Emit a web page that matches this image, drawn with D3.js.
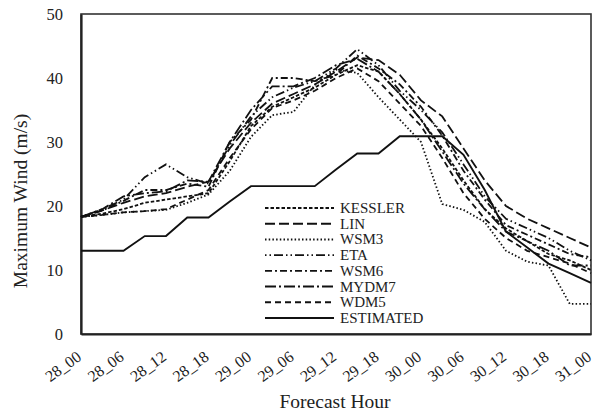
<!DOCTYPE html>
<html>
<head>
<meta charset="utf-8">
<script src="https://cdn.jsdelivr.net/npm/d3@7/dist/d3.min.js"></script>
<style>
  html, body { margin: 0; padding: 0; background: #fff; }
  svg { display: block; }
  svg text { font-family: "Liberation Serif", "Times New Roman", serif !important; }
</style>
</head>
<body>
<svg id="chart" width="594" height="414"></svg>
<script>
// ---- data (3-hourly forecast hours, 28_00 .. 31_00) ----
const hours = [0,3,6,9,12,15,18,21,24,27,30,33,36,39,42,45,48,51,54,57,60,63,66,69,72];
const tickHours = [0,6,12,18,24,30,36,42,48,54,60,66,72];
const tickLabels = ["28_00","28_06","28_12","28_18","29_00","29_06","29_12","29_18","30_00","30_06","30_12","30_18","31_00"];
const yTicks = [0,10,20,30,40,50];

const kessler   = [18.3,18.8,19.5,20.5,21,21.5,22,27,32.5,35.5,37,38.5,40.5,42,41,37.5,33.5,29,24,19.5,16.5,14.5,12.5,11.5,10];
const lin       = [18.3,19.3,20.5,21.5,22,23,23.8,29,33,36,37.5,39,41,43.2,42.8,40.5,36.5,34,29,24,20,18,16.5,15,13.5];
const wsm3      = [18.3,18.6,19,19.2,19.4,20.5,21.8,25.5,30.8,34.2,34.7,38.9,41.3,40.8,37,33.5,30,20.3,19.4,17.5,13,11.3,10.7,4.7,4.7];
const eta       = [18.3,19.5,21,24.5,26.5,24.5,23.5,29.5,34,37,38.5,39.5,41.5,44.5,42,38,35,31.5,26.5,21.5,18,16.5,15,13,11.5];
const wsm6      = [18.3,19.3,20.8,22.5,22.5,23.5,23,30,33.5,40,40,39.5,40.5,43.5,41.5,39,35.5,31,25.5,21,17,15.5,14,12.5,12];
const mydm7     = [18.3,19.5,21.5,22,22.3,24,23.8,30,35,38.7,38.7,40,42,43,41,37.5,33.5,28.5,23.5,19.5,16,14.5,13,10.7,10.7];
const wdm5      = [18.3,18.6,19,19.2,19.5,21,22.5,27.5,32,35.3,36.5,38,40,41.5,39.5,36,32.5,27.5,22,18,15,13,12,11,9.5];
const estimated = [13,13,13,15.3,15.3,18.2,18.2,20.7,23.1,23.1,23.1,23.1,25.7,28.2,28.2,30.9,30.9,30.9,28,22.5,16,13.5,11,9.5,8];

const seriesNames = ["KESSLER","LIN","WSM3","ETA","WSM6","MYDM7","WDM5","ESTIMATED"];
const seriesValues = [kessler, lin, wsm3, eta, wsm6, mydm7, wdm5, estimated];
const dashes = ["3.5,2", "10,4", "1.5,2.2", "1.5,3,1.5,3,9,3", "7,3,2,3", "11,3,2,3", "6,4", null];

// ---- layout ----
const FONT = "'Liberation Serif', 'Times New Roman', serif";
const svg = d3.select("#chart");
const L = 81, R = 591, T = 14, B = 334;

const x = d3.scaleLinear().domain([0, 72]).range([L, R]);
const y = d3.scaleLinear().domain([0, 50]).range([B, T]);

// plot box
svg.append("rect")
  .attr("x", L).attr("y", T).attr("width", R - L).attr("height", B - T)
  .attr("fill", "none").attr("stroke", "#333").attr("stroke-width", 1.6);

// y axis
const yAxis = svg.append("g").attr("transform", `translate(${L},0)`)
  .call(d3.axisLeft(y).tickValues(yTicks).tickSize(0).tickPadding(18));
yAxis.attr("font-family", FONT);
yAxis.select(".domain").attr("stroke", "#222").attr("stroke-width", 2.2);
yAxis.selectAll("text").attr("font-size", 16.5).attr("fill", "#222")
  .style("font-family", FONT);

// x axis
const xAxis = svg.append("g").attr("transform", `translate(0,${B})`)
  .call(d3.axisBottom(x).tickValues(tickHours).tickSize(0)
    .tickFormat((d, i) => tickLabels[i]));
xAxis.attr("font-family", FONT);
xAxis.select(".domain").attr("stroke", "#222").attr("stroke-width", 2.2);
xAxis.selectAll("text")
  .attr("font-size", 16).attr("fill", "#222")
  .style("font-family", FONT)
  .attr("text-anchor", "end")
  .attr("dy", null).attr("y", null)
  .attr("transform", "translate(1,25) rotate(-36)");

// axis titles
svg.append("text")
  .attr("x", 335).attr("y", 408)
  .attr("text-anchor", "middle").attr("font-size", 19.5).attr("fill", "#222")
  .style("font-family", FONT)
  .text("Forecast Hour");
svg.append("text")
  .attr("transform", "translate(27,201) rotate(-90)")
  .attr("text-anchor", "middle").attr("font-size", 19.5).attr("fill", "#222")
  .style("font-family", FONT)
  .text("Maximum Wind (m/s)");

// series lines
const line = d3.line().x((d, i) => x(hours[i])).y(d => y(d));
const g = svg.append("g");
seriesValues.forEach((vals, k) => {
  g.append("path")
    .datum(vals)
    .attr("d", line)
    .attr("fill", "none")
    .attr("stroke", "#111")
    .attr("stroke-width", k === 7 ? 1.9 : 1.8)
    .attr("stroke-dasharray", dashes[k]);
});

// legend
const lg = svg.append("g");
const rowY = d3.scaleLinear().domain([0, 7]).range([208, 318]);
seriesNames.forEach((name, k) => {
  const yy = rowY(k);
  lg.append("line")
    .attr("x1", 265).attr("x2", 334).attr("y1", yy).attr("y2", yy)
    .attr("stroke", "#111").attr("stroke-width", 1.9)
    .attr("stroke-dasharray", dashes[k]);
  lg.append("text")
    .attr("x", 340).attr("y", yy + 5)
    .attr("font-size", 15).attr("fill", "#222")
    .style("font-family", FONT)
    .text(name);
});
</script>
</body>
</html>
